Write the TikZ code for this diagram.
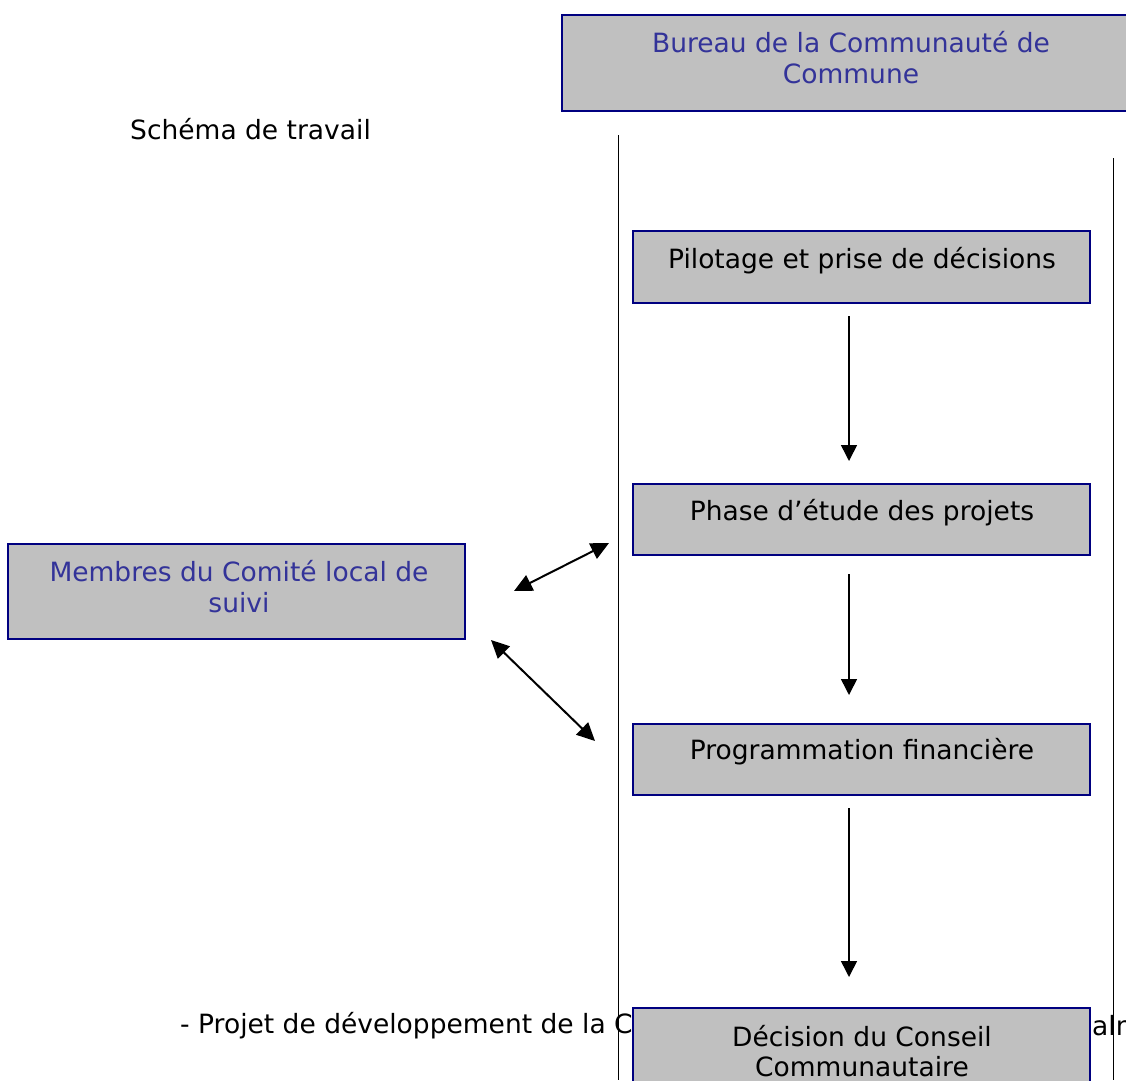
\documentclass[tikz,border=0pt]{standalone}
\usepackage{fontspec}
\setmainfont{DejaVu Sans}
\usetikzlibrary{arrows.meta}
\definecolor{boxgray}{HTML}{C0C0C0}
\definecolor{boxline}{HTML}{000080}
\definecolor{bluetxt}{HTML}{333399}
\tikzset{
  box/.style={draw=boxline, fill=boxgray, line width=2pt, rectangle, inner sep=0pt},
  txt/.style={inner sep=0pt, align=center, font=\fontsize{26.5}{31}\selectfont},
  bluet/.style={txt, text=bluetxt},
  vline/.style={line width=1pt, black},
  flow/.style={line width=1.5pt, -{Triangle[length=16pt,width=16pt]}},
  link/.style={line width=2pt, {Triangle[length=18pt,width=17pt]}-{Triangle[length=18pt,width=17pt]}}
}
\begin{document}
\begin{tikzpicture}[x=1pt,y=-1pt]
\clip (0,0) rectangle (1126,1080);
\fill[white] (0,0) rectangle (1126,1080);
% bottom text (behind)
\node[txt, anchor=west] (proj) at (180,1026) {- Projet de développement de la C};
\node[txt, anchor=west] (projend) at (1092,1026) {alm};
% vertical lines
\coordinate (la) at (618,135);
\coordinate (lb) at (618,1080);
\coordinate (ra) at (1113,158);
\coordinate (rb) at (1113,1080);
\draw[vline] (la) -- (lb);
\draw[vline] (ra) -- (rb);
% top box
\node[box, minimum width=575, minimum height=96] (bureau) at (849.5,63) {};
\node[bluet] (bureaut) at (851,58) {Bureau de la Communauté de\\Commune};
% title
\node[txt, anchor=west] (titre) at (130,129) {Schéma de travail};
% right boxes
\node[box, minimum width=457, minimum height=72] (pil) at (861.5,267) {};
\node[txt] (pilt) at (862,261) {Pilotage et prise de décisions};
\node[box, minimum width=457, minimum height=71] (phase) at (861.5,519.5) {};
\node[txt] (phaset) at (862,513) {Phase d’étude des projets};
\node[box, minimum width=457, minimum height=71] (prog) at (861.5,759.5) {};
\node[txt] (progt) at (862,752) {Programmation financière};
\node[box, minimum width=457, minimum height=100] (dec) at (861.5,1058) {};
\node[txt, font=\fontsize{26.5}{30}\selectfont] (dect) at (862,1051) {Décision du Conseil\\Communautaire};
% left box
\node[box, minimum width=457, minimum height=95] (comite) at (236.5,591.5) {};
\node[bluet] (comitet) at (239,587) {Membres du Comité local de\\suivi};
% flow arrows
\coordinate (a1s) at (849,316);
\coordinate (a1e) at (849,461);
\coordinate (a2s) at (849,574);
\coordinate (a2e) at (849,695);
\coordinate (a3s) at (849,808);
\coordinate (a3e) at (849,977);
\draw[flow] (a1s) -- (a1e);
\draw[flow] (a2s) -- (a2e);
\draw[flow] (a3s) -- (a3e);
% double arrows
\coordinate (d1a) at (514,591);
\coordinate (d1b) at (609,543);
\coordinate (d2a) at (491,640);
\coordinate (d2b) at (595,741);
\draw[link] (d1a) -- (d1b);
\draw[link] (d2a) -- (d2b);
\end{tikzpicture}
\end{document}
